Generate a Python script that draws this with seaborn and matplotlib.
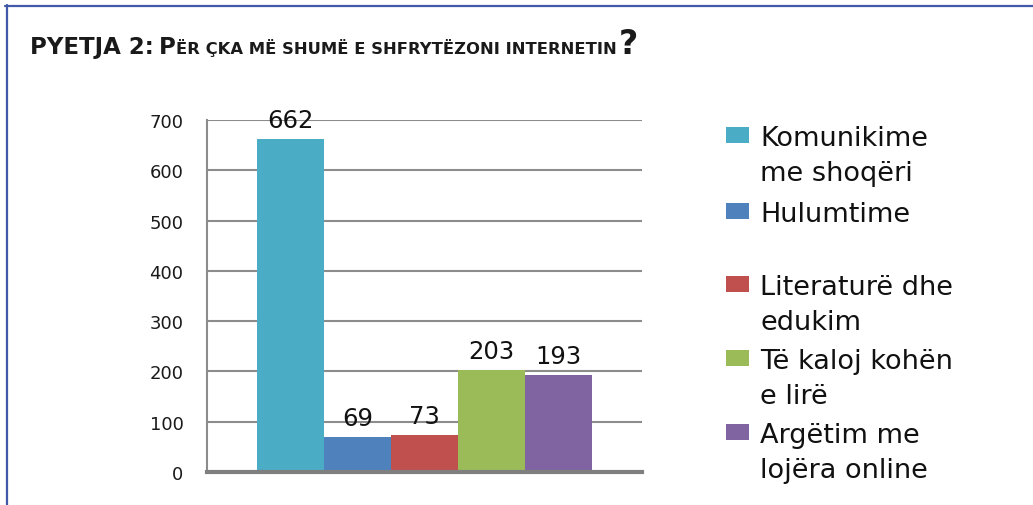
import matplotlib
matplotlib.use("Agg")
import matplotlib.pyplot as plt
from matplotlib.lines import Line2D
from matplotlib.patches import Rectangle
import seaborn as sns

# ── Data ──────────────────────────────────────────────────────────────────────
categories = [
    "Komunikime\nme shoqëri",
    "Hulumtime",
    "Literaturë dhe\nedukim",
    "Të kaloj kohën\ne lirë",
    "Argëtim me\nlojëra online",
]
counts = [662, 69, 73, 203, 193]
bar_colors = ["#4BACC6", "#4F81BD", "#C0504D", "#9BBB59", "#8064A2"]
y_ticks = [0, 100, 200, 300, 400, 500, 600, 700]

title_parts = [
    ("PYETJA 2:", 16.5, 0),
    ("P", 16.5, 5),
    ("ËR ÇKA MË SHUMË E SHFRYTËZONI INTERNETIN", 11.8, 0),
    ("?", 24, 2),
]

sns.set_theme(style="white")
plt.rcParams["font.family"] = ["DejaVu Sans"]

W, H = 1033, 506
fig = plt.figure(figsize=(W / 100, H / 100), dpi=100)
ax = fig.add_axes([207 / W, 1 - 473 / H, (642 - 207) / W, (473 - 121) / H])

sns.barplot(
    x=categories, y=counts, hue=categories, palette=bar_colors,
    width=1.0, saturation=1, legend=False, ax=ax, zorder=3, linewidth=0,
)
ax.set_xlim(-1.25, 5.25)
ax.set_ylim(0, 700)
ax.set_yticks(y_ticks)
ax.set_xticks([])
ax.set_xlabel("")
ax.set_ylabel("")
ax.tick_params(axis="y", length=0, pad=17, labelsize=13, labelcolor="#1a1a1a")
ax.yaxis.grid(True, color="#8c8c8c", linewidth=1.5)
ax.set_axisbelow(True)

for side in ("top", "right"):
    ax.spines[side].set_visible(False)
ax.spines["left"].set_color("#8c8c8c")
ax.spines["left"].set_linewidth(1.5)
ax.spines["bottom"].set_color("#7f7f7f")
ax.spines["bottom"].set_linewidth(3)
ax.spines["bottom"].set_zorder(4)

for cont in ax.containers:
    ax.bar_label(cont, fmt="%d", padding=5, fontsize=17.5, color="#111111")

# ── Manual legend (right side) ────────────────────────────────────────────────
legend_y = [136, 212, 285, 359, 433]
for label, color, yc in zip(categories, bar_colors, legend_y):
    fig.patches.append(Rectangle(
        (726 / W, 1 - (yc + 8) / H), 23 / W, 16 / H,
        transform=fig.transFigure, facecolor=color, edgecolor="none",
    ))
    for i, line in enumerate(label.split("\n")):
        fig.text(760 / W, 1 - (yc + i * 35) / H, line, fontsize=19.5,
                 color="#111111", ha="left", va="center_baseline")

# ── Title with small caps look ────────────────────────────────────────────────
renderer = fig.canvas.get_renderer()
x_px = 30
for text, size, gap in title_parts:
    x_px += gap
    t = fig.text(x_px / W, 1 - 54 / H, text, fontsize=size, fontweight="bold",
                 color="#1a1a1a", ha="left", va="baseline")
    x_px += t.get_window_extent(renderer).width

# ── Frame lines of the original page ──────────────────────────────────────────
fig.add_artist(Line2D([5 / W, 1], [1 - 6.5 / H] * 2, color="#4159a8", lw=1.6,
                      transform=fig.transFigure))
fig.add_artist(Line2D([7 / W] * 2, [0, 1 - 6 / H], color="#4159a8", lw=1.6,
                      transform=fig.transFigure))

fig.savefig("out.png", dpi=100, facecolor="white")
